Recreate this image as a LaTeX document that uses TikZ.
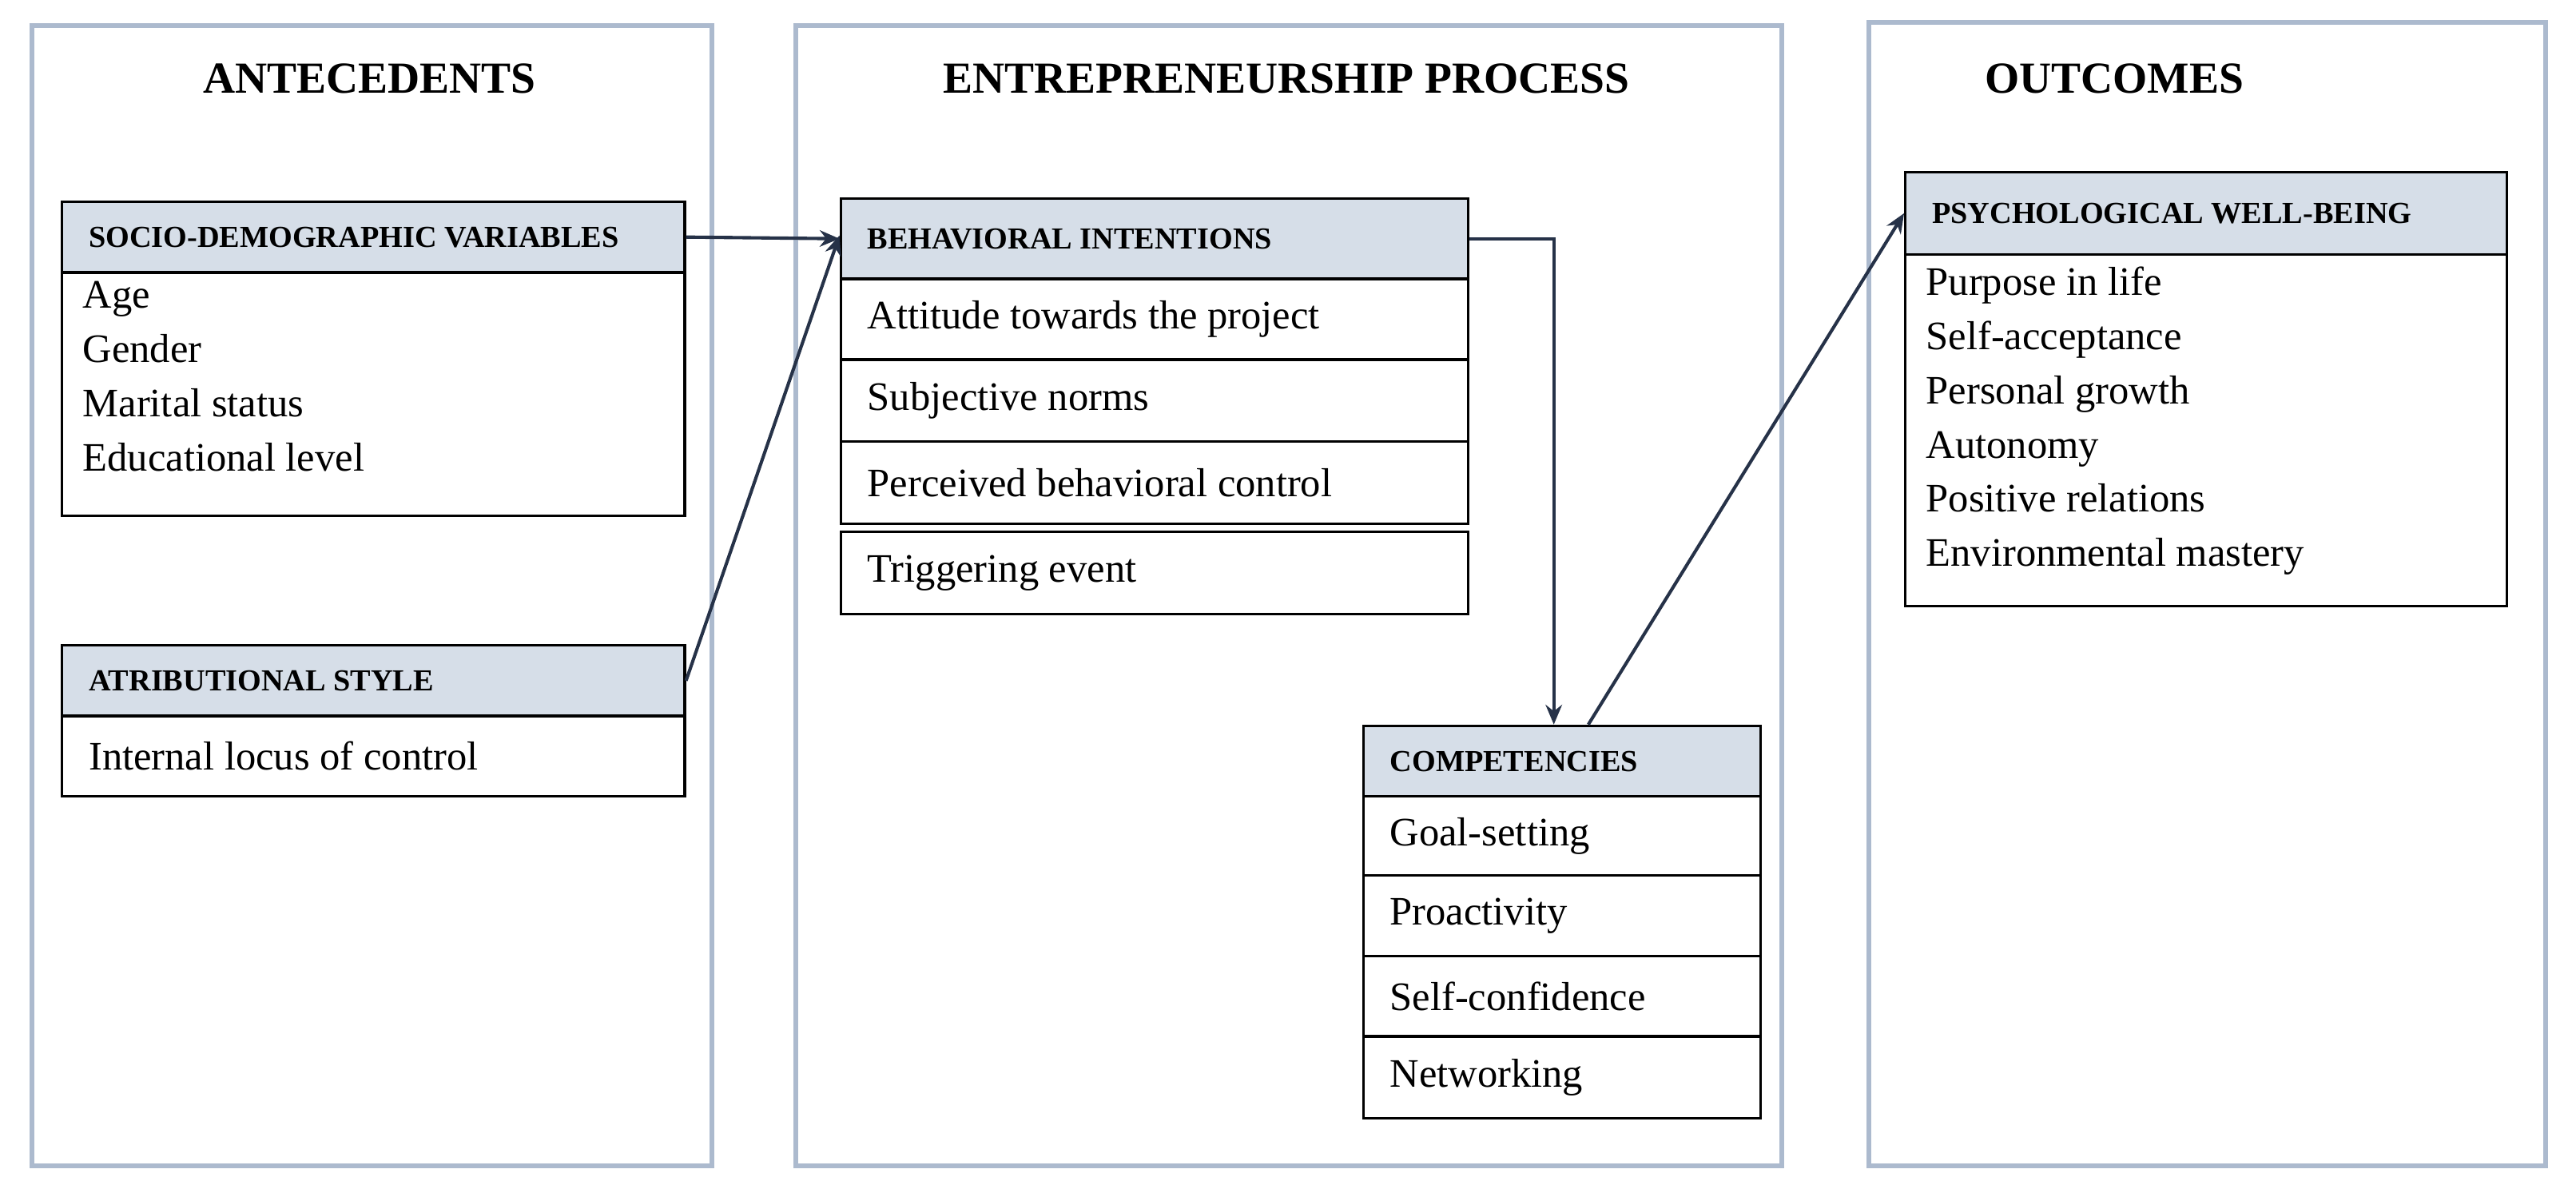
\documentclass[tikz,border=0pt]{standalone}
\usepackage{fontspec}
\setmainfont{Liberation Serif}
\usetikzlibrary{arrows.meta}
\definecolor{panel}{RGB}{172,186,206}
\definecolor{hfill}{RGB}{214,222,232}
\definecolor{ink}{RGB}{38,50,72}
\tikzset{
 panel/.style={draw=panel,line width=1.5pt,anchor=north west,inner sep=0pt},
 hbox/.style={draw=black,fill=hfill,line width=0.8pt,anchor=north west,inner sep=0pt},
 bbox/.style={draw=black,fill=white,line width=0.8pt,anchor=north west,inner sep=0pt},
 htext/.style={font=\bfseries\fontsize{9.3}{11}\selectfont,anchor=west},
 btext/.style={font=\fontsize{12.3}{16.5}\selectfont,anchor=west},
 ttl/.style={font=\bfseries\fontsize{13.5}{16}\selectfont},
 arr/.style={draw=ink,line width=1pt,-{Stealth[length=6pt,width=5pt]}}
}
\newcommand\bx[7]{\node[#2,minimum width=#5pt,minimum height=#6pt] (#1) at (#3,#4) {};
 \node[#7] at ([xshift=6pt]#1.west) {\strut};}
\begin{document}
\begin{tikzpicture}[x=1pt,y=-1pt]
\useasboundingbox (0,0) rectangle (784,363);
\node[panel,minimum width=207pt,minimum height=347pt] (p1) at (9,7) {};
\node[panel,minimum width=300pt,minimum height=347pt] (p2) at (241.5,7) {};
\node[panel,minimum width=206pt,minimum height=348pt] (p3) at (568,6) {};
\node[ttl] (t1) at (112.5,24) {ANTECEDENTS};
\node[ttl] (t2) at (391.5,24) {ENTREPRENEURSHIP PROCESS};
\node[ttl] (t3) at (643.5,24) {OUTCOMES};
% socio
\node[bbox,minimum width=189.5pt,minimum height=74pt] (sb) at (18.5,82.5) {};
\node[hbox,minimum width=189.5pt,minimum height=21.5pt] (sh) at (18.5,61) {};
\node[htext] at ([xshift=5pt]sh.west) {SOCIO-DEMOGRAPHIC VARIABLES};
\node[btext,align=left,anchor=north west,inner sep=0pt] (st) at (25,85.5) {Age\\Gender\\Marital status\\Educational level};
% atrib
\node[bbox,minimum width=189.5pt,minimum height=24.5pt] (ab) at (18.5,217.5) {};
\node[hbox,minimum width=189.5pt,minimum height=21.5pt] (ah) at (18.5,196) {};
\node[htext] at ([xshift=5pt]ah.west) {ATRIBUTIONAL STYLE};
\node[btext] at ([xshift=5pt]ab.west) {Internal locus of control};
% behavioral
\node[hbox,minimum width=191pt,minimum height=24.5pt] (bh) at (255.5,60) {};
\node[htext] at ([xshift=5pt]bh.west) {BEHAVIORAL INTENTIONS};
\node[bbox,minimum width=191pt,minimum height=24.5pt] (b1) at (255.5,84.5) {};
\node[btext] at ([xshift=5pt]b1.west) {Attitude towards the project};
\node[bbox,minimum width=191pt,minimum height=25pt] (b2) at (255.5,109) {};
\node[btext] at ([xshift=5pt]b2.west) {Subjective norms};
\node[bbox,minimum width=191pt,minimum height=25pt] (b3) at (255.5,134) {};
\node[btext] at ([xshift=5pt]b3.west) {Perceived behavioral control};
\node[bbox,minimum width=191pt,minimum height=25pt] (b4) at (255.5,161.5) {};
\node[btext] at ([xshift=5pt]b4.west) {Triggering event};
% competencies
\node[hbox,minimum width=121pt,minimum height=21.5pt] (ch) at (414.5,220.5) {};
\node[htext] at ([xshift=5pt]ch.west) {COMPETENCIES};
\node[bbox,minimum width=121pt,minimum height=24pt] (c1) at (414.5,242) {};
\node[btext] at ([xshift=5pt]c1.west) {Goal-setting};
\node[bbox,minimum width=121pt,minimum height=24.5pt] (c2) at (414.5,266) {};
\node[btext] at ([xshift=5pt]c2.west) {Proactivity};
\node[bbox,minimum width=121pt,minimum height=24.5pt] (c3) at (414.5,290.5) {};
\node[btext] at ([xshift=5pt]c3.west) {Self-confidence};
\node[bbox,minimum width=121pt,minimum height=25pt] (c4) at (414.5,315) {};
\node[btext] at ([xshift=5pt]c4.west) {Networking};
% psych
\node[bbox,minimum width=183pt,minimum height=107pt] (pb) at (579.5,77) {};
\node[hbox,minimum width=183pt,minimum height=25pt] (ph) at (579.5,52) {};
\node[htext] at ([xshift=5pt]ph.west) {PSYCHOLOGICAL WELL-BEING};
\node[btext,align=left,anchor=north west,inner sep=0pt] (pt) at (586,81) {Purpose in life\\Self-acceptance\\Personal growth\\Autonomy\\Positive relations\\Environmental mastery};
% arrows
\draw[arr] (sh.east) -- (bh.west);
\draw[arr] (ah.east) -- ([yshift=1pt]bh.west);
\draw[arr] (bh.east) -| ([xshift=-2.5pt]ch.north);
\draw[arr] ([xshift=8pt]ch.north) -- (ph.west);
\end{tikzpicture}
\end{document}
